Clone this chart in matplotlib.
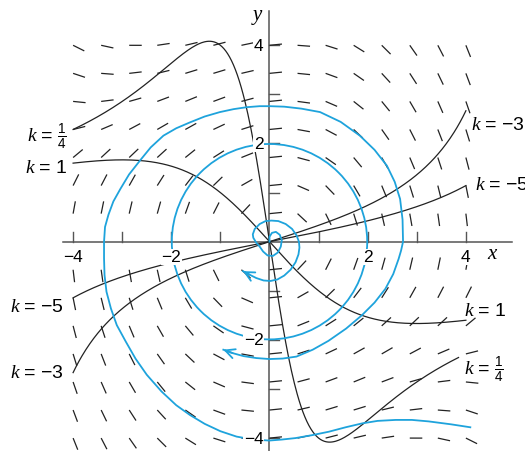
import numpy as np
import matplotlib
matplotlib.use('Agg')
import matplotlib.pyplot as plt
from matplotlib.collections import LineCollection
from matplotlib.patches import Circle

plt.rcParams['mathtext.fontset'] = 'custom'
plt.rcParams['mathtext.rm'] = 'Liberation Sans'
plt.rcParams['mathtext.it'] = 'Liberation Serif:italic'

# direction field of  y dy/dx = -x + mu (1 - x^2) y  (van der Pol, mu = 0.1)
mu = 0.1
grid = np.linspace(-4, 4, 15)
iso_k = [0.25, 1, -3, -5]
iso_xmax = [3.85, 4.0, 4.0, 4.0]

blue = '#1ea3dc'

# outer solution curve (start bottom right, moving left)
outer_x = [4.09, 3.7, 3.24, 2.9, 2.57, 2.2, 1.89, 1.55, 1.21, 0.87, 0.53, 0.25, 0.0,
           -0.33, -0.67, -1.0, -1.32, -1.62, -1.9, -2.2, -2.5, -2.73, -2.93, -3.11,
           -3.23, -3.32, -3.36, -3.37, -3.37, -3.35, -3.28, -3.18, -3.04, -2.86, -2.64,
           -2.42, -2.16, -1.9, -1.62, -1.32, -1.01, -0.73, -0.46, -0.2, 0.01, 0.3, 0.65,
           1.03, 1.45, 1.84, 2.14, 2.39, 2.55, 2.66, 2.71, 2.72, 2.68, 2.63, 2.52, 2.36,
           2.14, 1.88, 1.56, 1.2, 0.88, 0.55, 0.27, 0.0, -0.27, -0.53, -0.75, -0.94]
outer_y = [-3.78, -3.72, -3.66, -3.63, -3.63, -3.65, -3.70, -3.78, -3.87, -3.94, -4.0,
           -4.03, -4.05, -4.03, -3.97, -3.86, -3.71, -3.53, -3.33, -3.05, -2.71, -2.38,
           -2.03, -1.70, -1.36, -1.02, -0.68, -0.34, 0.0, 0.3, 0.55, 0.82, 1.07, 1.37,
           1.65, 1.92, 2.16, 2.31, 2.43, 2.55, 2.64, 2.70, 2.74, 2.76, 2.76, 2.75, 2.71,
           2.64, 2.44, 2.16, 1.87, 1.55, 1.22, 0.87, 0.45, 0.0, -0.18, -0.35, -0.66,
           -0.96, -1.24, -1.5, -1.77, -2.02, -2.2, -2.34, -2.38, -2.39, -2.37, -2.33,
           -2.27, -2.2]

# inner solution curve, from the origin outwards
inner_x = [0.0, 0.0, 0.05, 0.13, 0.21, 0.25, 0.23, 0.17, 0.07, -0.04, -0.13, -0.2,
           -0.27, -0.33, -0.34, -0.3, -0.2, -0.08, 0.04, 0.18, 0.33, 0.46, 0.55, 0.6,
           0.61, 0.59, 0.53, 0.43, 0.3, 0.16, 0.02, -0.12, -0.27, -0.41, -0.54]
inner_y = [0.0, 0.1, 0.18, 0.2, 0.14, 0.03, -0.1, -0.22, -0.29, -0.28, -0.2, -0.1,
           -0.02, 0.08, 0.15, 0.26, 0.36, 0.42, 0.43, 0.42, 0.36, 0.26, 0.13, 0.0,
           -0.12, -0.26, -0.42, -0.57, -0.69, -0.77, -0.8, -0.79, -0.74, -0.67, -0.6]

cycle_r = 1.99

fig = plt.figure(figsize=(5.25, 4.52), dpi=100)
ax = fig.add_axes([0, 0, 1, 1])
ax.set_xlim(-5.489, 5.204)
ax.set_ylim(-4.263, 4.943)
ax.set_aspect('equal')
ax.axis('off')

# axes
ax.plot([-4.21, 4.94], [0, 0], color='#555555', lw=1.1, zorder=2)
ax.plot([0, 0], [-4.3, 4.70], color='#555555', lw=1.1, zorder=2)
for t in [-4, -3, -2, -1, 1, 2, 3, 4]:
    ax.plot([t, t], [0, 0.2], color='#555555', lw=1.0, zorder=2)
    ax.plot([0, 0.2], [t, t], color='#555555', lw=1.0, zorder=2)

# direction field dashes, each starting at its grid point
L = 0.255
segs = []
for x0 in grid:
    for y0 in grid:
        if abs(y0) < 1e-9:
            continue
        m = (-x0 + mu * (1 - x0**2) * y0) / y0
        dx = L / np.sqrt(1 + m * m)
        segs.append([(x0, y0), (x0 + dx, y0 + m * dx)])
ax.add_collection(LineCollection(segs, colors='#222222', linewidths=0.9, zorder=3))

# isoclines
for k, xm in zip(iso_k, iso_xmax):
    xs = np.linspace(-4, xm, 400)
    ys = -xs / (k - mu * (1 - xs**2))
    ax.plot(xs, ys, color='#222222', lw=0.9, zorder=4)

# solution curves
ax.add_patch(Circle((0, 0), cycle_r, fill=False, ec=blue, lw=1.3, zorder=5))
ax.plot(outer_x, outer_y, color=blue, lw=1.3, zorder=5, solid_joinstyle='round')
ax.plot(inner_x, inner_y, color=blue, lw=1.3, zorder=5, solid_joinstyle='round')
for xs, ys in [(outer_x, outer_y), (inner_x, inner_y)]:
    ax.annotate('', xy=(xs[-1], ys[-1]), xytext=(xs[-2], ys[-2]),
                arrowprops=dict(arrowstyle='->', color=blue, lw=1.3,
                                mutation_scale=17, shrinkA=0, shrinkB=0), zorder=6)

# tick labels
box = dict(fc='white', ec='none', pad=0.6)
tf = dict(family='Liberation Sans', fontsize=12.5, zorder=7, bbox=box)
for t in [-4, -2, 2, 4]:
    ax.text(t, -0.31, str(t).replace('-', '\u2212'), ha='center', va='center', **tf)
    ax.text(-0.12, t, str(t).replace('-', '\u2212'), ha='right', va='center', **tf)

ax.text(4.53, -0.25, 'x', family='Liberation Serif', style='italic', fontsize=15,
        ha='center', va='center')
ax.text(-0.25, 4.62, 'y', family='Liberation Serif', style='italic', fontsize=15,
        ha='center', va='center')

# isocline labels
lf = dict(fontsize=14, va='center', zorder=7)
ax.text(-4.12, 2.15, r'$k\,=\,\frac{1}{4}$', ha='right', **lf)
ax.text(-4.12, 1.54, r'$k\,=\,1$', ha='right', **lf)
ax.text(-4.2, -1.29, r'$k\,=\,{-}5$', ha='right', **lf)
ax.text(-4.2, -2.65, r'$k\,=\,{-}3$', ha='right', **lf)
ax.text(4.10, 2.40, r'$k\,=\,{-}3$', ha='left', **lf)
ax.text(4.18, 1.18, r'$k\,=\,{-}5$', ha='left', **lf)
ax.text(3.96, -1.39, r'$k\,=\,1$', ha='left', **lf)
ax.text(3.96, -2.6, r'$k\,=\,\frac{1}{4}$', ha='left', **lf)

fig.savefig('out.png', dpi=100)
